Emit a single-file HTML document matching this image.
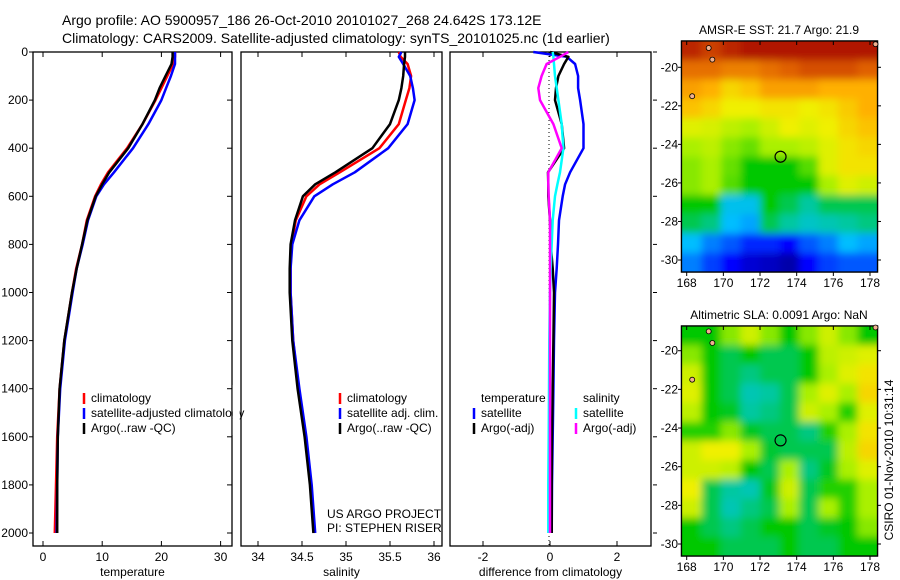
<!DOCTYPE html>
<html><head><meta charset="utf-8"><style>
body{margin:0;background:#fff;}
svg{display:block;font-family:"Liberation Sans",sans-serif;}
</style></head><body>
<svg id="c" width="900" height="580" viewBox="0 0 900 580">
<defs>
<filter id="blur" x="-10%" y="-10%" width="120%" height="120%"><feGaussianBlur stdDeviation="4"/></filter>
<clipPath id="clip1"><rect x="682" y="41" width="195" height="231"/></clipPath>
<clipPath id="clip2"><rect x="682" y="326" width="195" height="230"/></clipPath>
</defs>
<text x="62" y="25" font-size="14">Argo profile: AO 5900957_186 26-Oct-2010 20101027_268 24.642S 173.12E</text>
<text x="62" y="43" font-size="14">Climatology: CARS2009. Satellite-adjusted climatology: synTS_20101025.nc (1d earlier)</text>
<g id="g"></g>
</svg>
<script>
// ---- data ----
const depths=[0,20,50,100,150,200,300,400,500,550,600,700,800,900,1000,1200,1400,1600,1800,2000];
const tempClim=[22.3,22.3,22.0,21.0,20.0,19.0,16.8,14.2,11.0,9.8,8.8,7.4,6.6,5.6,4.9,3.6,2.8,2.4,2.2,2.0];
const tempSat=[22.3,22.3,22.3,21.6,20.8,20.0,17.8,15.2,12.0,10.3,9.0,7.6,6.7,5.7,5.0,3.7,2.9,2.5,2.4,2.3];
const tempArgo=[21.9,21.9,21.7,20.7,19.7,18.9,16.8,14.4,11.2,10.0,8.9,7.5,6.6,5.7,4.9,3.6,2.8,2.5,2.4,2.4];
const salClim=[35.6,35.62,35.7,35.74,35.72,35.68,35.6,35.38,34.93,34.7,34.55,34.43,34.38,34.37,34.37,34.4,34.46,34.54,34.6,34.64];
const salSat=[35.63,35.6,35.65,35.73,35.76,35.78,35.7,35.48,35.1,34.85,34.64,34.47,34.39,34.37,34.37,34.4,34.47,34.55,34.61,34.65];
const salArgo=[35.67,35.67,35.66,35.65,35.63,35.6,35.5,35.3,34.88,34.65,34.51,34.42,34.37,34.36,34.36,34.39,34.45,34.53,34.59,34.63];
const dTempSat=[-0.5,0.5,0.75,0.84,0.84,0.9,1.0,1.0,0.6,0.45,0.38,0.27,0.24,0.2,0.15,0.12,0.1,0.08,0.06,0.05];
const dTempArgo=[0,0.55,0.42,0.25,0.18,0.15,0.35,0.42,-0.06,-0.05,-0.05,0,0.02,0.08,0.12,0.1,0.08,0.06,0.05,0.05];
const dSalSat=[0.08,0.1,0.12,0.15,0.2,0.25,0.35,0.4,0.3,0.22,0.15,0.08,0.05,0.02,0,-0.02,-0.03,-0.04,-0.05,-0.05];
const dSalArgo=[0.55,0.3,-0.1,-0.25,-0.35,-0.3,0.1,0.35,-0.05,-0.05,-0.04,0,0,0,0,0,0,0,0,0];
const depthTicks=[0,200,400,600,800,1000,1200,1400,1600,1800,2000];
const tempTicks=[0,10,20,30];
const salTicks=[34,34.5,35,35.5,36];
const diffTicks=[-2,0,2];
const lonTicks=[168,170,172,174,176,178];
const latTicks=[-20,-22,-24,-26,-28,-30];
const sstGrid=[
[.95,.92,.95,.97,.97,.97,.97,.97,.97,.97],
[.86,.86,.84,.84,.86,.88,.9,.9,.9,.88],
[.8,.78,.72,.75,.8,.8,.8,.78,.78,.78],
[.75,.72,.68,.68,.7,.7,.68,.7,.74,.78],
[.66,.65,.62,.6,.64,.68,.66,.68,.72,.75],
[.6,.62,.58,.56,.6,.6,.62,.66,.7,.72],
[.58,.6,.56,.5,.5,.5,.55,.66,.7,.7],
[.58,.6,.55,.5,.5,.5,.5,.6,.66,.64],
[.5,.5,.32,.32,.5,.45,.4,.45,.45,.45],
[.45,.42,.3,.28,.45,.4,.36,.38,.4,.42],
[.3,.25,.22,.18,.18,.15,.22,.25,.3,.28],
[.25,.2,.15,.1,.08,.05,.15,.2,.22,.22]];
const slaGrid=[
[.5,.5,.58,.64,.58,.5,.58,.64,.58,.5],
[.58,.5,.45,.5,.45,.45,.5,.62,.64,.66],
[.64,.5,.45,.42,.45,.45,.5,.6,.66,.7],
[.66,.5,.45,.38,.4,.45,.6,.66,.6,.72],
[.62,.5,.48,.4,.42,.45,.64,.6,.52,.66],
[.52,.52,.58,.48,.45,.45,.42,.52,.6,.7],
[.64,.68,.68,.6,.47,.45,.45,.45,.62,.72],
[.64,.64,.62,.5,.45,.6,.42,.48,.6,.66],
[.68,.45,.4,.38,.48,.64,.45,.52,.52,.6],
[.64,.45,.38,.42,.45,.6,.45,.6,.52,.6],
[.5,.45,.42,.45,.5,.5,.45,.48,.5,.58],
[.5,.5,.45,.45,.45,.5,.45,.45,.5,.5]];
const argoLon=173.12, argoLat=-24.64;

// ---- drawing ----
const NS="http://www.w3.org/2000/svg";
const G=document.getElementById('g');
function el(t,a,p){const e=document.createElementNS(NS,t);for(const k in a)e.setAttribute(k,a[k]);(p||G).appendChild(e);return e;}
const Y0=52, YK=0.2405;
const yD=d=>Y0+d*YK;
const panels=[
 {x0:33,x1:232,f:v=>43+v*5.92,ticks:tempTicks,label:'temperature',name:'temperature'},
 {x0:241,x1:442,f:v=>258+(v-34)*88,ticks:salTicks,label:'salinity',name:'salinity'},
 {x0:450,x1:651,f:v=>550+v*33.5,ticks:diffTicks,label:'difference from climatology',name:'difference'}];
panels.forEach((p,i)=>{
  const r=el('rect',{x:p.x0,y:Y0,width:p.x1-p.x0,height:546-Y0,fill:'none',stroke:'#000','stroke-width':1.3});
  
  
  p.ticks.forEach(t=>{
    const x=p.f(t);
    el('line',{x1:x,x2:x,y1:Y0,y2:Y0+5,stroke:'#000'});
    el('line',{x1:x,x2:x,y1:546,y2:541,stroke:'#000'});
    const tx=el('text',{x:x,y:561,'font-size':12,'text-anchor':'middle'});
    tx.textContent=t;
    
    
  });
  const xl=el('text',{x:(p.x0+p.x1)/2,y:576,'font-size':12,'text-anchor':'middle'});
  xl.textContent=p.label;
  
  
  depthTicks.forEach(d=>{
    const y=yD(d);
    if(i===0){el('line',{x1:p.x0-4,x2:p.x0,y1:y,y2:y,stroke:'#000'});el('line',{x1:p.x1,x2:p.x1-5,y1:y,y2:y,stroke:'#000'});
      const t=el('text',{x:28,y:y+4,'font-size':12,'text-anchor':'end'});t.textContent=d;
      
      }
    if(i===2){el('line',{x1:p.x1+2,x2:p.x1+6,y1:y,y2:y,stroke:'#000'});}
  });
});
function line(p,vals,color,name,w){
  const pts=vals.map((v,k)=>p.f(v).toFixed(1)+','+yD(depths[k]).toFixed(1)).join(' ');
  const e=el('polyline',{points:pts,fill:'none',stroke:color,'stroke-width':w||2.5,'stroke-linejoin':'round'});
  
  
}
el('line',{x1:549,x2:549,y1:Y0,y2:546,stroke:'#000','stroke-dasharray':'1,3'});
line(panels[0],tempClim,'#f00','temperature-climatology-line');
line(panels[0],tempSat,'#00f','temperature-satellite-line');
line(panels[0],tempArgo,'#000','temperature-argo-line');
line(panels[1],salClim,'#f00','salinity-climatology-line');
line(panels[1],salSat,'#00f','salinity-satellite-line');
line(panels[1],salArgo,'#000','salinity-argo-line');
line(panels[2],dTempSat,'#00f','diff-temperature-satellite-line');
line(panels[2],dTempArgo,'#000','diff-temperature-argo-line');
line(panels[2],dSalSat,'#0ff','diff-salinity-satellite-line');
line(panels[2],dSalArgo,'#f0f','diff-salinity-argo-line');

function legend(x,y,items,name){
  items.forEach((it,k)=>{
    const yy=y+k*15;
    if(it[1]) el('line',{x1:x,x2:x,y1:yy-9,y2:yy+2,stroke:it[1],'stroke-width':2.5});
    const t=el('text',{x:x+7,y:yy,'font-size':12});t.textContent=it[0];
    
    
  });
}
legend(84,402,[['climatology','#f00'],['satellite-adjusted climatology','#00f'],['Argo(..raw -QC)','#000']],'temperature-legend');
el('rect',{x:232.7,y:385,width:7,height:50,fill:'#fff'});
legend(340,402,[['climatology','#f00'],['satellite adj. clim.','#00f'],['Argo(..raw -QC)','#000']],'salinity-legend');
legend(474,402,[['temperature',null],['satellite','#00f'],['Argo(-adj)','#000']],'diff-temperature-legend');
legend(576,402,[['salinity',null],['satellite','#0ff'],['Argo(-adj)','#f0f']],'diff-salinity-legend');
let t=el('text',{x:327,y:518,'font-size':12});t.textContent='US ARGO PROJECT';


t=el('text',{x:327,y:532,'font-size':12});t.textContent='PI: STEPHEN RISER';



const stops=[[0,[0,0,127]],[.15,[0,0,255]],[.3,[0,190,255]],[.4,[0,200,160]],[.5,[0,200,0]],[.6,[170,240,0]],[.68,[240,240,0]],[.78,[255,176,0]],[.88,[224,96,0]],[1,[160,0,0]]];
function cmap(v){for(let i=1;i<stops.length;i++){if(v<=stops[i][0]){const a=stops[i-1],b=stops[i],f=(v-a[0])/(b[0]-a[0]);return 'rgb('+a[1].map((c,j)=>Math.round(c+(b[1][j]-c)*f)).join(',')+')';}}return 'rgb(160,0,0)';}
function map(grid,top,bot,clip,lat20,lat30,title,name){
  const x0=682,x1=877;
  const fr=el('rect',{x:x0-0.5,y:top,width:x1-x0+1,height:bot-top,fill:'#fff',stroke:'#000','stroke-width':1.3});
  
  
  const g=el('g',{'clip-path':'url(#'+clip+')'});
  const g2=el('g',{filter:'url(#blur)'},g);
  const cw=(x1-x0)/10,ch=(bot-top)/12;
  grid.forEach((row,r)=>row.forEach((v,c)=>{
    const xs=c===0?x0-15:x0+c*cw, xe=c===9?x1+15:x0+(c+1)*cw;
    const ys=r===0?top-15:top+r*ch, ye=r===11?bot+15:top+(r+1)*ch;
    const cell=el('rect',{x:xs,y:ys,width:xe-xs+0.5,height:ye-ys+0.5,fill:cmap(v)},g2);
    
    
  }));
  el('rect',{x:x0-0.5,y:top,width:x1-x0+1,height:bot-top,fill:'none',stroke:'#000','stroke-width':1.3});
  const lx=lon=>686.7+(lon-168)*18.33;
  const ly=lat=>lat20+(-20-lat)*(lat30-lat20)/10;
  lonTicks.forEach(l=>{const x=lx(l);el('line',{x1:x,x2:x,y1:top,y2:top+4,stroke:'#000'});el('line',{x1:x,x2:x,y1:bot,y2:bot+4,stroke:'#000'});
    const tt=el('text',{x:x,y:bot+15,'font-size':12,'text-anchor':'middle'});tt.textContent=l;
    
    });
  latTicks.forEach(l=>{const y=ly(l);el('line',{x1:x0-4,x2:x0,y1:y,y2:y,stroke:'#000'});el('line',{x1:x1,x2:x1+4,y1:y,y2:y,stroke:'#000'});
    const tt=el('text',{x:x0-4,y:y+4,'font-size':12,'text-anchor':'end'});tt.textContent=l;
    
    });
  const m=el('circle',{cx:lx(argoLon),cy:ly(argoLat),r:5.5,fill:'none',stroke:'#000','stroke-width':1.2});
  
  
  [[169.2,-19],[169.4,-19.6],[168.3,-21.5],[178.3,-18.8]].forEach(p=>el('circle',{cx:lx(p[0]),cy:ly(p[1]),r:2.5,fill:'#f0b090',stroke:'#000','stroke-width':0.8}));
  const tt=el('text',{x:779,y:top-7,'font-size':12,'text-anchor':'middle'});tt.textContent=title;
  
  
}
map(sstGrid,41,272,'clip1',67.3,260,'AMSR-E SST: 21.7 Argo: 21.9','sst-map');
map(slaGrid,326,556,'clip2',350.7,544,'Altimetric SLA: 0.0091 Argo: NaN','sla-map');
t=el('text',{x:0,y:0,'font-size':12,'text-anchor':'middle',transform:'translate(893,460) rotate(-90)'});
t.textContent='CSIRO 01-Nov-2010 10:31:14';


</script>
</body></html>
